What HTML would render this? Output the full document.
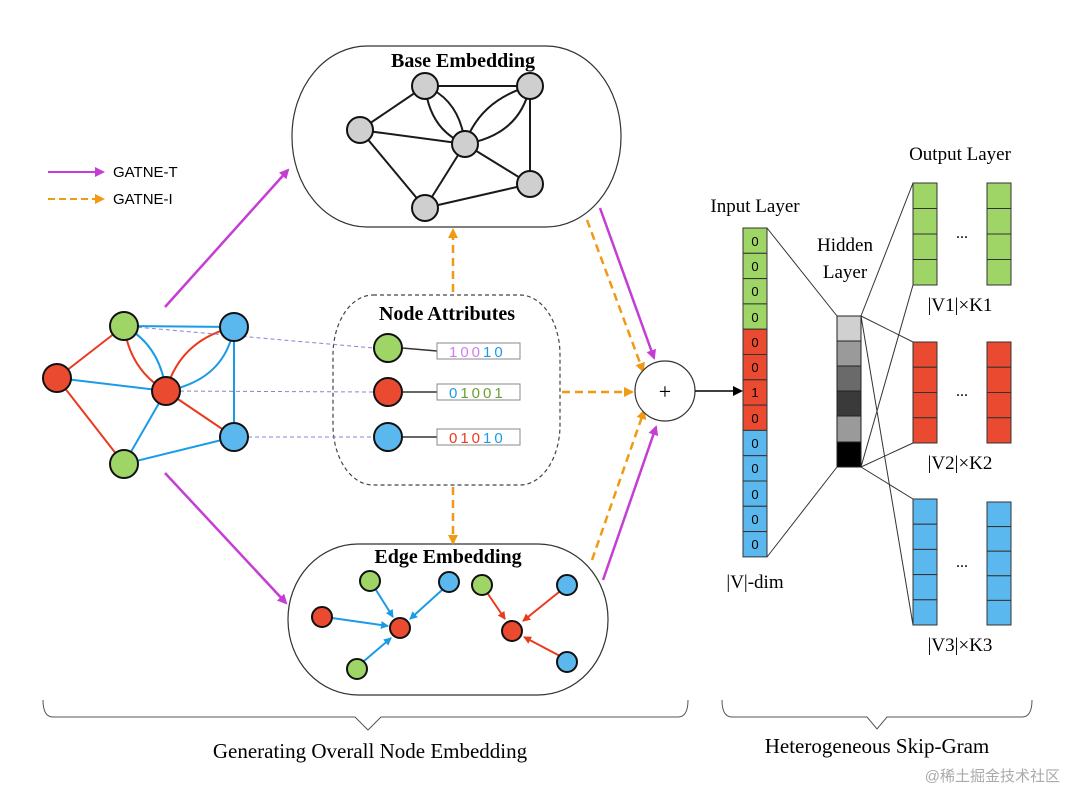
<!DOCTYPE html>
<html><head><meta charset="utf-8"><style>
html,body{margin:0;padding:0;background:#fff;}
svg{display:block;font-family:"Liberation Serif",serif;}
.s{font-family:"Liberation Sans",sans-serif;}
.wm{font-family:"Liberation Sans","Noto Sans CJK SC",sans-serif;}
</style></head><body>
<svg width="1080" height="807" viewBox="0 0 1080 807" xmlns="http://www.w3.org/2000/svg">
<defs>
<marker id="mm" markerWidth="10" markerHeight="10" refX="8" refY="5" orient="auto" markerUnits="userSpaceOnUse"><path d="M0,0 L10,5 L0,10 z" fill="#c53ed4"/></marker>
<marker id="mo" markerWidth="10" markerHeight="10" refX="8" refY="5" orient="auto" markerUnits="userSpaceOnUse"><path d="M0,0 L10,5 L0,10 z" fill="#f09a14"/></marker>
<marker id="mb" markerWidth="8" markerHeight="8" refX="7" refY="4" orient="auto" markerUnits="userSpaceOnUse"><path d="M0,0 L8,4 L0,8 z" fill="#1a9be8"/></marker>
<marker id="mr" markerWidth="8" markerHeight="8" refX="7" refY="4" orient="auto" markerUnits="userSpaceOnUse"><path d="M0,0 L8,4 L0,8 z" fill="#ea3a1e"/></marker>
<marker id="mk" markerWidth="10" markerHeight="10" refX="8" refY="5" orient="auto" markerUnits="userSpaceOnUse"><path d="M0,0 L10,5 L0,10 z" fill="#000"/></marker>
</defs>

<line x1="48" y1="172" x2="103" y2="172" stroke="#c53ed4" stroke-width="2" marker-end="url(#mm)"/>
<text class="s" x="113" y="177" font-size="15">GATNE-T</text>
<line x1="48" y1="199" x2="103" y2="199" stroke="#f09a14" stroke-width="2" stroke-dasharray="7,4" marker-end="url(#mo)"/>
<text class="s" x="113" y="204" font-size="15">GATNE-I</text>

<rect x="292" y="46" width="329" height="181" rx="75" ry="90" fill="#fff" stroke="#333" stroke-width="1.2"/>
<text x="463" y="67" font-size="20" font-weight="bold" text-anchor="middle">Base Embedding</text>
<g stroke="#1a1a1a" stroke-width="2" fill="none">
<line x1="425" y1="86" x2="530" y2="86"/>
<line x1="425" y1="86" x2="360" y2="130"/>
<line x1="360" y1="130" x2="465" y2="144"/>
<line x1="360" y1="130" x2="425" y2="208"/>
<line x1="425" y1="208" x2="465" y2="144"/>
<line x1="425" y1="208" x2="530" y2="184"/>
<line x1="465" y1="144" x2="530" y2="184"/>
<line x1="530" y1="86" x2="530" y2="184"/>
<path d="M425,86 Q430,130 465,144"/>
<path d="M425,86 Q460,100 465,144"/>
<path d="M530,86 Q480,100 465,144"/>
<path d="M530,86 Q520,135 465,144"/>
</g>
<g fill="#cfcfcf" stroke="#111" stroke-width="2">
<circle cx="425" cy="86" r="13"/><circle cx="530" cy="86" r="13"/><circle cx="360" cy="130" r="13"/>
<circle cx="465" cy="144" r="13"/><circle cx="530" cy="184" r="13"/><circle cx="425" cy="208" r="13"/>
</g>

<rect x="333" y="295" width="227" height="190" rx="40" ry="60" fill="none" stroke="#444" stroke-width="1.2" stroke-dasharray="4,3"/>
<text x="447" y="320" font-size="20" font-weight="bold" text-anchor="middle">Node Attributes</text>

<g stroke-width="2" fill="none">
<line x1="124" y1="326" x2="57" y2="378" stroke="#ea3a1e"/>
<line x1="57" y1="378" x2="124" y2="464" stroke="#ea3a1e"/>
<line x1="57" y1="378" x2="166" y2="391" stroke="#1a9be8"/>
<line x1="124" y1="326" x2="234" y2="327" stroke="#1a9be8"/>
<line x1="234" y1="327" x2="234" y2="437" stroke="#1a9be8"/>
<line x1="166" y1="391" x2="124" y2="464" stroke="#1a9be8"/>
<line x1="124" y1="464" x2="234" y2="437" stroke="#1a9be8"/>
<line x1="166" y1="391" x2="234" y2="437" stroke="#ea3a1e"/>
<path d="M124,326 Q130,370 166,391" stroke="#ea3a1e"/>
<path d="M124,326 Q160,345 166,391" stroke="#1a9be8"/>
<path d="M234,327 Q180,340 166,391" stroke="#ea3a1e"/>
<path d="M234,327 Q225,380 166,391" stroke="#1a9be8"/>
</g>
<g stroke="#8a80d8" stroke-width="1" stroke-dasharray="4,3">
<line x1="124" y1="326" x2="374" y2="348"/>
<line x1="166" y1="391" x2="374" y2="392"/>
<line x1="234" y1="437" x2="374" y2="437"/>
</g>
<g stroke="#111" stroke-width="2">
<circle cx="124" cy="326" r="14" fill="#9fd466"/>
<circle cx="234" cy="327" r="14" fill="#5bb8ef"/>
<circle cx="57" cy="378" r="14" fill="#ea4a30"/>
<circle cx="166" cy="391" r="14" fill="#ea4a30"/>
<circle cx="234" cy="437" r="14" fill="#5bb8ef"/>
<circle cx="124" cy="464" r="14" fill="#9fd466"/>
</g>

<g stroke="#333" stroke-width="1.5">
<line x1="402" y1="348" x2="437" y2="351"/><line x1="402" y1="392" x2="437" y2="392"/><line x1="402" y1="437" x2="437" y2="437"/>
</g>
<g fill="#fff" stroke="#888" stroke-width="1">
<rect x="437" y="343" width="83" height="16"/><rect x="437" y="384" width="83" height="16"/><rect x="437" y="429" width="83" height="16"/>
</g>
<g font-size="15" letter-spacing="3">
<text class="s" x="449" y="357"><tspan fill="#cc80ee">100</tspan><tspan fill="#1a9be8">10</tspan></text>
<text class="s" x="449" y="398"><tspan fill="#1a9be8">0</tspan><tspan fill="#6aa030">1001</tspan></text>
<text class="s" x="449" y="443"><tspan fill="#ea3a1e">010</tspan><tspan fill="#1a9be8">10</tspan></text>
</g>
<g stroke="#111" stroke-width="2">
<circle cx="388" cy="348" r="14" fill="#9fd466"/>
<circle cx="388" cy="392" r="14" fill="#ea4a30"/>
<circle cx="388" cy="437" r="14" fill="#5bb8ef"/>
</g>

<rect x="288" y="544" width="320" height="151" rx="70" ry="75" fill="#fff" stroke="#333" stroke-width="1.2"/>
<text x="448" y="563" font-size="20" font-weight="bold" text-anchor="middle">Edge Embedding</text>
<g stroke="#1a9be8" stroke-width="2" marker-end="url(#mb)">
<line x1="376" y1="590" x2="393" y2="617"/>
<line x1="442" y1="590" x2="410" y2="619"/>
<line x1="332" y1="618" x2="388" y2="626"/>
<line x1="364" y1="661" x2="391" y2="638"/>
</g>
<g stroke="#ea3a1e" stroke-width="2" marker-end="url(#mr)">
<line x1="488" y1="594" x2="505" y2="619"/>
<line x1="559" y1="592" x2="523" y2="621"/>
<line x1="560" y1="656" x2="524" y2="637"/>
</g>
<g stroke="#111" stroke-width="2">
<circle cx="370" cy="581" r="10" fill="#9fd466"/><circle cx="449" cy="582" r="10" fill="#5bb8ef"/>
<circle cx="322" cy="617" r="10" fill="#ea4a30"/><circle cx="400" cy="628" r="10" fill="#ea4a30"/>
<circle cx="357" cy="669" r="10" fill="#9fd466"/>
<circle cx="482" cy="585" r="10" fill="#9fd466"/><circle cx="567" cy="585" r="10" fill="#5bb8ef"/>
<circle cx="512" cy="631" r="10" fill="#ea4a30"/><circle cx="567" cy="662" r="10" fill="#5bb8ef"/>
</g>

<g stroke="#c53ed4" stroke-width="2.5" fill="none" marker-end="url(#mm)">
<line x1="165" y1="307" x2="288" y2="170"/>
<line x1="165" y1="473" x2="286" y2="603"/>
<line x1="600" y1="208" x2="654" y2="358"/>
<line x1="603" y1="580" x2="656" y2="427"/>
</g>
<g stroke="#f09a14" stroke-width="2.5" fill="none" stroke-dasharray="8,5" marker-end="url(#mo)">
<line x1="453" y1="292" x2="453" y2="230"/>
<line x1="453" y1="487" x2="453" y2="543"/>
<line x1="587" y1="220" x2="643" y2="371"/>
<line x1="562" y1="392" x2="632" y2="392"/>
<line x1="592" y1="560" x2="644" y2="411"/>
</g>
<circle cx="665" cy="391" r="30" fill="#fff" stroke="#333" stroke-width="1.2"/>
<text x="665" y="399" font-size="22" text-anchor="middle">+</text>
<line x1="695" y1="391" x2="741" y2="391" stroke="#000" stroke-width="1.5" marker-end="url(#mk)"/>

<text x="755" y="212" font-size="19" text-anchor="middle">Input Layer</text>
<text x="845" y="251" font-size="19" text-anchor="middle">Hidden</text>
<text x="845" y="278" font-size="19" text-anchor="middle">Layer</text>
<text x="960" y="160" font-size="19" text-anchor="middle">Output Layer</text>
<g stroke="#333" stroke-width="1">
<line x1="767" y1="228" x2="837" y2="316"/><line x1="767" y1="557" x2="837" y2="467"/>
<line x1="861" y1="316" x2="913" y2="183"/><line x1="861" y1="316" x2="913" y2="342"/><line x1="861" y1="316" x2="913" y2="625"/>
<line x1="861" y1="467" x2="913" y2="285"/><line x1="861" y1="467" x2="913" y2="443"/><line x1="861" y1="467" x2="913" y2="499"/>
</g>
<g stroke="#333" stroke-width="1">
<rect x="743" y="228" width="24" height="25.3" fill="#9fd466"/><rect x="743" y="253.3" width="24" height="25.3" fill="#9fd466"/>
<rect x="743" y="278.6" width="24" height="25.3" fill="#9fd466"/><rect x="743" y="303.9" width="24" height="25.3" fill="#9fd466"/>
<rect x="743" y="329.2" width="24" height="25.3" fill="#ea4a30"/><rect x="743" y="354.5" width="24" height="25.3" fill="#ea4a30"/>
<rect x="743" y="379.8" width="24" height="25.3" fill="#ea4a30"/><rect x="743" y="405.1" width="24" height="25.3" fill="#ea4a30"/>
<rect x="743" y="430.4" width="24" height="25.3" fill="#5bb8ef"/><rect x="743" y="455.7" width="24" height="25.3" fill="#5bb8ef"/>
<rect x="743" y="481" width="24" height="25.3" fill="#5bb8ef"/><rect x="743" y="506.3" width="24" height="25.3" fill="#5bb8ef"/>
<rect x="743" y="531.6" width="24" height="25.3" fill="#5bb8ef"/>
</g>
<g font-size="13" text-anchor="middle">
<text class="s" x="755" y="246">0</text><text class="s" x="755" y="271">0</text><text class="s" x="755" y="296">0</text><text class="s" x="755" y="322">0</text>
<text class="s" x="755" y="347">0</text><text class="s" x="755" y="372">0</text><text class="s" x="755" y="397">1</text><text class="s" x="755" y="423">0</text>
<text class="s" x="755" y="448">0</text><text class="s" x="755" y="473">0</text><text class="s" x="755" y="499">0</text><text class="s" x="755" y="524">0</text><text class="s" x="755" y="549">0</text>
</g>
<g stroke="#222" stroke-width="1">
<rect x="837" y="316" width="24" height="25" fill="#d0d0d0"/><rect x="837" y="341" width="24" height="25" fill="#9a9a9a"/>
<rect x="837" y="366" width="24" height="25" fill="#6a6a6a"/><rect x="837" y="391" width="24" height="25" fill="#3a3a3a"/>
<rect x="837" y="416" width="24" height="26" fill="#9a9a9a"/><rect x="837" y="442" width="24" height="25" fill="#000"/>
</g>
<g stroke="#333" stroke-width="1">
<g fill="#9fd466">
<rect x="913" y="183" width="24" height="25.5"/><rect x="913" y="208.5" width="24" height="25.5"/><rect x="913" y="234" width="24" height="25.5"/><rect x="913" y="259.5" width="24" height="25.5"/>
<rect x="987" y="183" width="24" height="25.5"/><rect x="987" y="208.5" width="24" height="25.5"/><rect x="987" y="234" width="24" height="25.5"/><rect x="987" y="259.5" width="24" height="25.5"/>
</g>
<g fill="#ea4a30">
<rect x="913" y="342" width="24" height="25.25"/><rect x="913" y="367.25" width="24" height="25.25"/><rect x="913" y="392.5" width="24" height="25.25"/><rect x="913" y="417.75" width="24" height="25.25"/>
<rect x="987" y="342" width="24" height="25.25"/><rect x="987" y="367.25" width="24" height="25.25"/><rect x="987" y="392.5" width="24" height="25.25"/><rect x="987" y="417.75" width="24" height="25.25"/>
</g>
<g fill="#5bb8ef">
<rect x="913" y="499" width="24" height="25.2"/><rect x="913" y="524.2" width="24" height="25.2"/><rect x="913" y="549.4" width="24" height="25.2"/><rect x="913" y="574.6" width="24" height="25.2"/><rect x="913" y="599.8" width="24" height="25.2"/>
<rect x="987" y="502" width="24" height="24.6"/><rect x="987" y="526.6" width="24" height="24.6"/><rect x="987" y="551.2" width="24" height="24.6"/><rect x="987" y="575.8" width="24" height="24.6"/><rect x="987" y="600.4" width="24" height="24.6"/>
</g>
</g>
<g font-size="16" text-anchor="middle"><text x="962" y="238">...</text><text x="962" y="396">...</text><text x="962" y="567">...</text></g>
<text x="960" y="311" font-size="19" text-anchor="middle">|V1|×K1</text>
<text x="960" y="469" font-size="19" text-anchor="middle">|V2|×K2</text>
<text x="960" y="651" font-size="19" text-anchor="middle">|V3|×K3</text>
<text x="755" y="588" font-size="19" text-anchor="middle">|V|-dim</text>

<path d="M43,700 Q43,717 53,717 L355,717 L368,730 L381,717 L678,717 Q688,717 688,700" fill="none" stroke="#555" stroke-width="1"/>
<path d="M722,700 Q722,717 732,717 L867,717 L877,729 L887,717 L1022,717 Q1032,717 1032,700" fill="none" stroke="#555" stroke-width="1"/>
<text x="370" y="758" font-size="21" text-anchor="middle">Generating Overall Node Embedding</text>
<text x="877" y="753" font-size="21" text-anchor="middle">Heterogeneous Skip-Gram</text>
<text class="wm" x="1060" y="781" font-size="15" text-anchor="end" fill="#aaa">@稀土掘金技术社区</text>
</svg>
</body></html>
